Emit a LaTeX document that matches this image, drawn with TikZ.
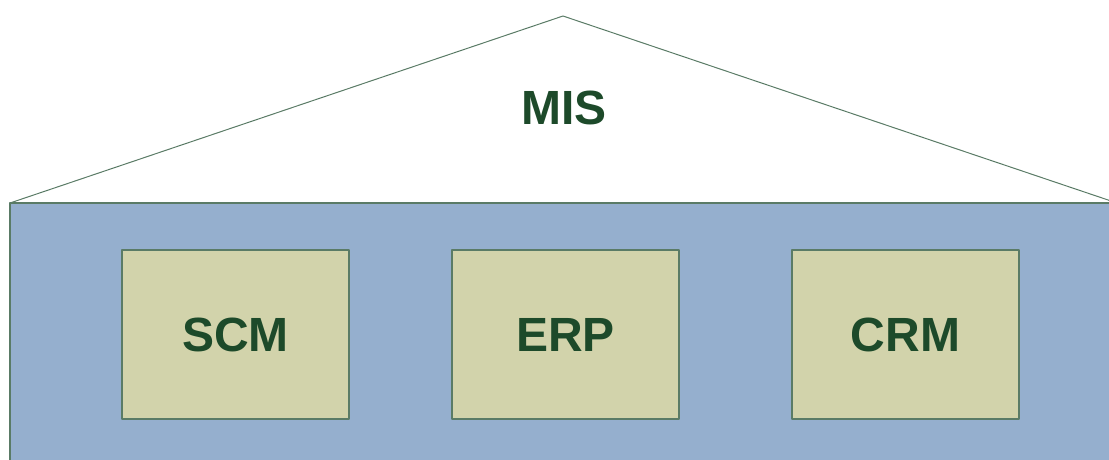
\documentclass[tikz,border=0pt]{standalone}
\usepackage{fontspec}
\setmainfont{Liberation Sans}
\definecolor{wall}{HTML}{95AFCE}
\definecolor{module}{HTML}{D2D3AB}
\definecolor{edge}{HTML}{5A7B66}
\definecolor{label}{HTML}{1D4A2A}
\tikzset{
  module/.style={draw=edge, line width=1.2pt, fill=module, minimum width=227pt, minimum height=169pt, inner sep=0pt},
  title/.style={text=label, font=\fontsize{48}{48}\selectfont\bfseries}
}
\begin{document}
\begin{tikzpicture}[x=1pt, y=-1pt, line join=round]
    \useasboundingbox (0,0) rectangle (1109,460);
    \clip (0,0) rectangle (1109,460);
    \coordinate (top) at (563,16);
    \coordinate (eaveL) at (10,203);
    \coordinate (eaveR) at (1114,202);
    \draw[edge, line width=1pt] (eaveL)--(top)--(eaveR);
    \filldraw[draw=edge, fill=wall, line width=1.2pt] (eaveL) rectangle (1120,470);
    \node[title] (mis) at (564,108) {MIS};
    \node[module] (scm) at (235.5,334.5) {};
    \node[module] (erp) at (565.5,334.5) {};
    \node[module] (crm) at (905.5,334.5) {};
    \foreach \n/\t in {scm/SCM,erp/ERP,crm/CRM}\node[title] at (\n) {\t};
\end{tikzpicture}
\end{document}
